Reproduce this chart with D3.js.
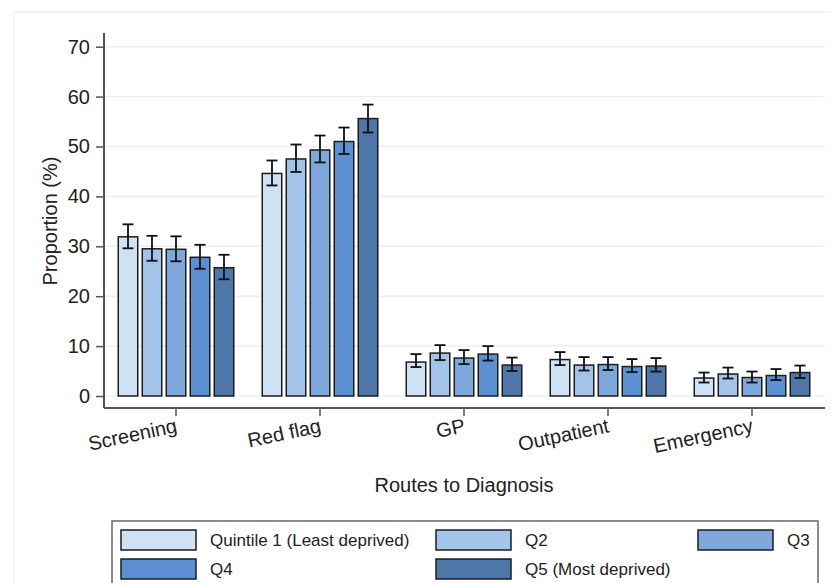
<!DOCTYPE html>
<html>
<head>
<meta charset="utf-8">
<script src="https://cdn.jsdelivr.net/npm/d3@7"></script>
<style>
  body { margin: 0; background: #fff; }
  svg { font-family: "Liberation Sans", Arial, sans-serif; }
</style>
</head>
<body>
<div id="chart"></div>
<script>
// data
const routes = ['Screening', 'Red flag', 'GP', 'Outpatient', 'Emergency'];
const quintiles = ['Quintile 1 (Least deprived)', 'Q2', 'Q3', 'Q4', 'Q5 (Most deprived)'];
const colors = ['#d0e1f3', '#a4c3e8', '#7ea8dc', '#5d90d2', '#4e76a8'];
const yTicks = [0, 10, 20, 30, 40, 50, 60, 70];

const q1 = [31.9, 44.6, 6.8, 7.3, 3.6];
const q1Lo = [29.6, 42.2, 5.8, 6.2, 2.7];
const q1Hi = [34.4, 47.2, 8.4, 8.8, 4.7];
const q2 = [29.5, 47.5, 8.6, 6.2, 4.4];
const q2Lo = [27.1, 44.9, 7.2, 5.1, 3.5];
const q2Hi = [32.1, 50.4, 10.2, 7.8, 5.7];
const q3 = [29.4, 49.3, 7.6, 6.3, 3.7];
const q3Lo = [27.0, 46.8, 6.4, 5.2, 2.7];
const q3Hi = [32.0, 52.2, 9.2, 7.8, 4.9];
const q4 = [27.8, 51.0, 8.4, 5.9, 4.1];
const q4Lo = [25.5, 48.5, 7.1, 4.8, 3.2];
const q4Hi = [30.3, 53.8, 10.0, 7.4, 5.4];
const q5 = [25.7, 55.6, 6.2, 6.0, 4.7];
const q5Lo = [23.4, 52.8, 5.0, 4.9, 3.6];
const q5Hi = [28.3, 58.4, 7.7, 7.6, 6.1];

const series = [[q1, q1Lo, q1Hi], [q2, q2Lo, q2Hi], [q3, q3Lo, q3Hi], [q4, q4Lo, q4Hi], [q5, q5Lo, q5Hi]];

const rows = [];
routes.forEach((r, i) => {
    series.forEach((s, j) => {
        rows.push({ route: r, q: j, value: s[0][i], lo: s[1][i], hi: s[2][i] });
    });
});

const width = 831, height = 583;
const svg = d3.select('#chart').append('svg')
    .attr('width', width)
    .attr('height', height);

svg.append('rect').attr('width', width).attr('height', height).attr('fill', '#fff');

// faint outer graph frame
svg.append('rect')
    .attr('x', 14).attr('y', 12)
    .attr('width', 840).attr('height', 620)
    .attr('fill', 'none')
    .attr('stroke', '#eef2f6')
    .attr('stroke-width', 1.5);

const plotL = 104, plotR = 824, plotT = 33, plotB = 408;

const x = d3.scaleBand()
    .domain(routes)
    .range([plotL, plotR]);

const xInner = d3.scaleBand()
    .domain(d3.range(5))
    .range([0, 120])
    .paddingInner(0.125)
    .paddingOuter(0.0625);

const y = d3.scaleLinear()
    .domain([0, 70])
    .range([396, 46.7]);

// gridlines
svg.append('g')
    .selectAll('line')
    .data(yTicks)
    .enter().append('line')
    .attr('x1', plotL).attr('x2', plotR + 1)
    .attr('y1', d => y(d)).attr('y2', d => y(d))
    .attr('stroke', '#eaf0f6')
    .attr('stroke-width', 1.5);

// bars
const groupOff = (x.bandwidth() - 120) / 2;
svg.append('g')
    .selectAll('rect')
    .data(rows)
    .enter().append('rect')
    .attr('x', d => x(d.route) + groupOff + xInner(d.q) + 0.75)
    .attr('y', d => y(d.value))
    .attr('width', xInner.bandwidth() - 1.5)
    .attr('height', d => y(0) - y(d.value))
    .attr('fill', d => colors[d.q])
    .attr('stroke', '#1c1c1c')
    .attr('stroke-width', 1.5);

// error bars
const errs = svg.append('g')
    .attr('stroke', '#111')
    .attr('stroke-width', 1.8);
rows.forEach(d => {
    const cx = x(d.route) + groupOff + xInner(d.q) + xInner.bandwidth() / 2;
    errs.append('line').attr('x1', cx).attr('x2', cx).attr('y1', y(d.lo)).attr('y2', y(d.hi));
    errs.append('line').attr('x1', cx - 5.5).attr('x2', cx + 5.5).attr('y1', y(d.lo)).attr('y2', y(d.lo));
    errs.append('line').attr('x1', cx - 5.5).attr('x2', cx + 5.5).attr('y1', y(d.hi)).attr('y2', y(d.hi));
});

// y axis
const yAxis = svg.append('g')
    .attr('transform', `translate(${plotL}, 0)`)
    .call(d3.axisLeft(y).tickValues(yTicks).tickSize(8).tickPadding(6));
yAxis.select('.domain').remove();
yAxis.selectAll('line').attr('stroke', '#555').attr('stroke-width', 1.5);
yAxis.selectAll('text').attr('font-size', 20).attr('fill', '#222').attr('font-family', '"Liberation Sans", Arial, sans-serif');
svg.append('line')
    .attr('x1', plotL).attr('x2', plotL)
    .attr('y1', plotT).attr('y2', plotB)
    .attr('stroke', '#555').attr('stroke-width', 2);

// x axis
const xAxis = svg.append('g')
    .attr('transform', `translate(0, ${plotB})`)
    .call(d3.axisBottom(x).tickSize(8).tickFormat(''));
xAxis.select('.domain').remove();
xAxis.selectAll('line').attr('stroke', '#555').attr('stroke-width', 1.5);
svg.append('line')
    .attr('x1', plotL).attr('x2', plotR + 1)
    .attr('y1', plotB).attr('y2', plotB)
    .attr('stroke', '#555').attr('stroke-width', 2);

svg.append('g')
    .selectAll('text')
    .data(routes)
    .enter().append('text')
    .attr('transform', d => `translate(${x(d) + x.bandwidth() / 2 + 2}, 432) rotate(-12)`)
    .attr('text-anchor', 'end')
    .attr('font-size', 20)
    .attr('fill', '#222')
    .text(d => d);

// axis titles
svg.append('text')
    .attr('transform', 'translate(57, 221) rotate(-90)')
    .attr('text-anchor', 'middle')
    .attr('font-size', 20)
    .attr('fill', '#222')
    .text('Proportion (%)');

svg.append('text')
    .attr('x', 464)
    .attr('y', 492)
    .attr('text-anchor', 'middle')
    .attr('font-size', 20)
    .attr('fill', '#222')
    .text('Routes to Diagnosis');

// legend
svg.append('rect')
    .attr('x', 112).attr('y', 521)
    .attr('width', 706).attr('height', 90)
    .attr('fill', '#fff')
    .attr('stroke', '#666')
    .attr('stroke-width', 1.5);

const legendPos = [[121, 530], [436, 530], [698, 530], [121, 559], [436, 559]];
const legend = svg.append('g')
    .selectAll('g')
    .data(quintiles)
    .enter().append('g')
    .attr('transform', (d, i) => `translate(${legendPos[i][0]}, ${legendPos[i][1]})`);

legend.append('rect')
    .attr('width', 75).attr('height', 20)
    .attr('fill', (d, i) => colors[i])
    .attr('stroke', '#1c1c1c')
    .attr('stroke-width', 1.5);

legend.append('text')
    .attr('x', 89)
    .attr('y', 16)
    .attr('font-size', 17)
    .attr('fill', '#222')
    .text(d => d);
</script>
</body>
</html>
